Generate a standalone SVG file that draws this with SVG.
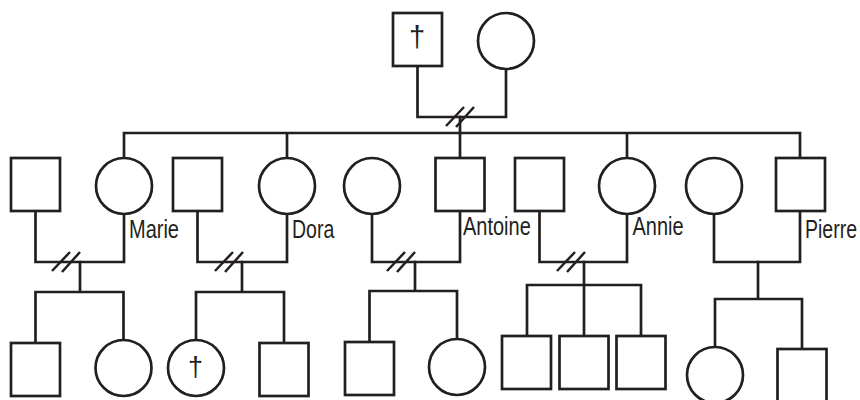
<svg xmlns="http://www.w3.org/2000/svg" width="860" height="400" viewBox="0 0 860 400">
<defs>
<style>
.s{fill:#fff;stroke:#231f20;stroke-width:2.7}
.l{fill:none;stroke:#231f20;stroke-width:2.7;stroke-linecap:square;stroke-linejoin:miter}
.sl{fill:none;stroke:#231f20;stroke-width:2.5}
.t{font-family:"Liberation Sans",Arial,sans-serif;font-size:25px;fill:#231f20}
.d{font-family:"Liberation Sans",Arial,sans-serif;fill:#231f20;text-anchor:middle}
</style>
<g id="slash"><line x1="-14" y1="9" x2="4" y2="-10"/><line x1="-4" y1="10" x2="14" y2="-10"/></g>
</defs>
<rect width="860" height="400" fill="#fff"/>
<g id="connectors" class="l">
<path d="M417.5 66V117H506V69"/>
<path d="M460 117V133"/>
<path d="M124 133H800M124 133V158M287 133V158M460 133V158M627 133V158M800 133V158"/>
<path d="M35.5 211V262H124V214"/>
<path d="M197.5 211V262H287V214"/>
<path d="M372 214V262H460V211"/>
<path d="M539.5 211V262H627V214"/>
<path d="M714 214V262H800V211"/>
<path d="M80 262V292M35.5 292H123.5M35.5 292V343M123.5 292V340"/>
<path d="M242 262V292M196 292H284M196 292V340M284 292V343"/>
<path d="M415 262V291M369.5 291H457M369.5 291V342M457 291V339"/>
<path d="M584 262V336M527 285H641M527 285V336M641 285V336"/>
<path d="M758 262V299M715 299H802M715 299V347M802 299V349"/>
</g>
<g class="sl">
<use href="#slash" x="460" y="117"/>
<use href="#slash" x="66" y="262"/>
<use href="#slash" x="229" y="262"/>
<use href="#slash" x="401" y="262"/>
<use href="#slash" x="571" y="262"/>
</g>
<g id="grandfather"><rect class="s" x="393" y="13" width="49" height="53"/><text class="d" x="417" y="47" font-size="29">†</text></g>
<g id="grandmother"><circle class="s" cx="506" cy="41" r="28"/></g>
<g id="marie-husband"><rect class="s" x="11" y="158" width="49" height="53"/></g>
<g id="marie"><circle class="s" cx="124" cy="186" r="28"/><text class="t" transform="matrix(0.8 0 0 1 129 238)">Marie</text></g>
<g id="dora-husband"><rect class="s" x="173" y="158" width="49" height="53"/></g>
<g id="dora"><circle class="s" cx="287" cy="186" r="28"/><text class="t" transform="matrix(0.78 0 0 1 292 238)">Dora</text></g>
<g id="antoine-wife"><circle class="s" cx="372" cy="186" r="28"/></g>
<g id="antoine"><rect class="s" x="435.5" y="158" width="49" height="53"/><text class="t" transform="matrix(0.8 0 0 1 463 235)">Antoine</text></g>
<g id="annie-husband"><rect class="s" x="515" y="158" width="49" height="53"/></g>
<g id="annie"><circle class="s" cx="627" cy="186" r="28"/><text class="t" transform="matrix(0.8 0 0 1 632.5 235)">Annie</text></g>
<g id="pierre-wife"><circle class="s" cx="714" cy="186" r="28"/></g>
<g id="pierre"><rect class="s" x="776" y="158" width="49" height="53"/><text class="t" transform="matrix(0.78 0 0 1 805 238)">Pierre</text></g>
<g id="m-son"><rect class="s" x="11" y="343" width="49" height="53"/></g>
<g id="m-daughter"><circle class="s" cx="123.5" cy="368" r="28"/></g>
<g id="d-daughter"><circle class="s" cx="196" cy="368" r="28"/><text class="d" x="195.5" y="376" font-size="27">†</text></g>
<g id="d-son"><rect class="s" x="259.5" y="343" width="49" height="53"/></g>
<g id="a-son"><rect class="s" x="345" y="342" width="49" height="53"/></g>
<g id="a-daughter"><circle class="s" cx="457" cy="367" r="28"/></g>
<g id="an-son1"><rect class="s" x="502" y="336" width="49" height="53"/></g>
<g id="an-son2"><rect class="s" x="559.5" y="336" width="49" height="53"/></g>
<g id="an-son3"><rect class="s" x="616.5" y="336" width="49" height="53"/></g>
<g id="p-daughter"><circle class="s" cx="715" cy="375" r="28"/></g>
<g id="p-son"><rect class="s" x="777.5" y="349" width="49" height="53"/></g>
</svg>
